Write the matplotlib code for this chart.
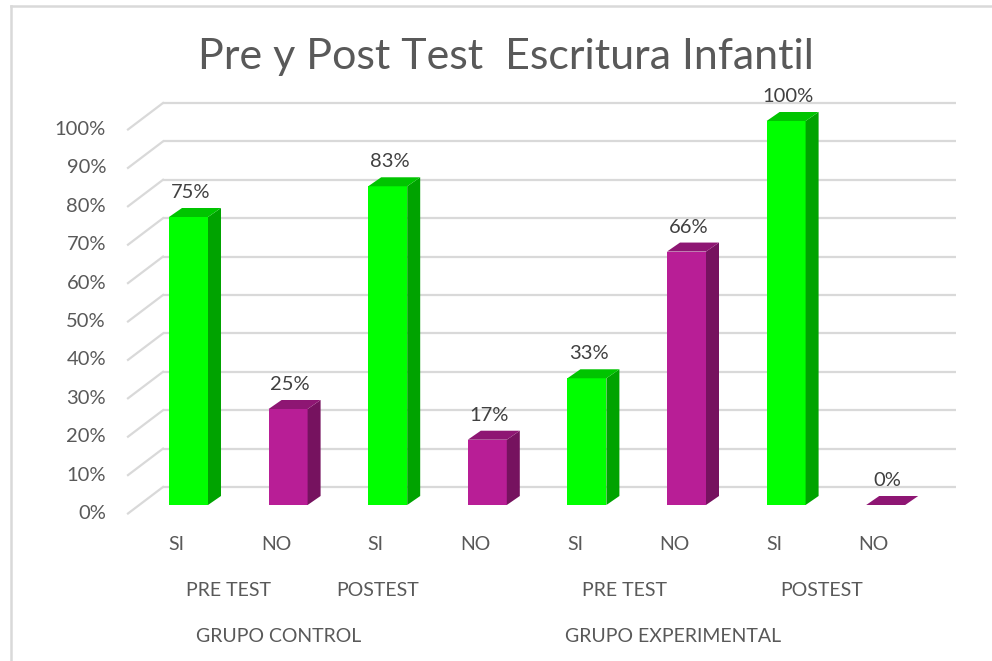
import matplotlib
matplotlib.use('Agg')
import matplotlib.pyplot as plt
from matplotlib.patches import Polygon
from matplotlib.lines import Line2D

# datos del grafico
categorias = ['SI', 'NO', 'SI', 'NO', 'SI', 'NO', 'SI', 'NO']
valores = [0.75, 0.25, 0.83, 0.17, 0.33, 0.66, 1.00, 0.00]
etiquetas = ['75%', '25%', '83%', '17%', '33%', '66%', '100%', '0%']
fases = ['PRE TEST', 'POSTEST', 'PRE TEST', 'POSTEST']
grupos = ['GRUPO CONTROL', 'GRUPO EXPERIMENTAL']
ticks = [0.0, 0.1, 0.2, 0.3, 0.4, 0.5, 0.6, 0.7, 0.8, 0.9, 1.0]
tick_labels = ['0%', '10%', '20%', '30%', '40%', '50%', '60%', '70%', '80%', '90%', '100%']

# posiciones de las etiquetas de nivel 2 y 3 (en unidades de categoria)
pos_fases = [0.40, 1.90, 4.38, 6.36]
pos_grupos = [0.90, 4.87]

# colores
verde = ('#00FF00', '#00A300', '#00C400')      # frente, lado, tapa
magenta = ('#B81E96', '#76125F', '#8E1673')
gris_txt = '#595959'
gris_grid = '#D9D9D9'

plt.rcParams['font.family'] = ['Lato', 'DejaVu Sans']

W, H = 992, 661
fig = plt.figure(figsize=(W / 100, H / 100), dpi=100)

# axes en pixeles: plano de las barras
L, R, T, B = 100, 970, 90, 530
X0, DX = 188.5, 99.6    # centro barra 0, separacion
Y0, YS = 505, 384       # pixel de 0%, pixeles por 100%
ax = fig.add_axes([L / W, 1 - B / H, (R - L) / W, (B - T) / H])
ax.set_xlim((L - X0) / DX, (R - X0) / DX)
ax.set_ylim((Y0 - B) / YS, (Y0 - T) / YS)
ax.axis('off')

ux = 1 / DX
uy = 1 / YS

def px(xp):
    return (xp - X0) * ux

# lineas de la cuadricula (pared de fondo + diagonal lateral)
for t in ticks:
    yb = t + 18 * uy
    yf = t - 8.5 * uy
    ax.plot([px(163), px(956)], [yb, yb], color=gris_grid, lw=1.6, zorder=1,
            solid_capstyle='butt')
    ax.plot([px(128), px(163)], [yf, yb], color=gris_grid, lw=1.6, zorder=1)

for t, lab in zip(ticks, tick_labels):
    ax.text(px(106), t - 8.5 * uy, lab, ha='right', va='center', fontsize=14.5,
            color=gris_txt, clip_on=False)

# barras con efecto 3D
x = list(range(len(valores)))
w = 39 * ux
ddx, ddy = 13 * ux, 9 * uy
colores = [verde if c == 'SI' else magenta for c in categorias]
ax.bar(x, valores, width=w, color=[c[0] for c in colores], zorder=3)
for xi, v, c in zip(x, valores, colores):
    lado = [(xi + w / 2, 0), (xi + w / 2 + ddx, ddy), (xi + w / 2 + ddx, v + ddy), (xi + w / 2, v)]
    tapa = [(xi - w / 2, v), (xi + w / 2, v), (xi + w / 2 + ddx, v + ddy), (xi - w / 2 + ddx, v + ddy)]
    if v > 0:
        ax.add_patch(Polygon(lado, closed=True, facecolor=c[1], edgecolor='none', zorder=3))
    ax.add_patch(Polygon(tapa, closed=True, facecolor=c[2], edgecolor='none', zorder=3))

for xi, v, lab in zip(x, valores, etiquetas):
    ax.text(xi + 2 * ux, v + 16 * uy, lab, ha='center', va='bottom', fontsize=14.5,
            color='#404040', clip_on=False)

# etiquetas de categorias (tres niveles)
for xi, c in zip(x, categorias):
    ax.text(xi - 12 * ux, (Y0 - 544) * uy, c, ha='center', va='center', fontsize=14,
            color=gris_txt, clip_on=False)
for p, f in zip(pos_fases, fases):
    ax.text(p, (Y0 - 590) * uy, f, ha='center', va='center', fontsize=14,
            color=gris_txt, clip_on=False)
for p, g in zip(pos_grupos, grupos):
    ax.text(p, (Y0 - 636) * uy, g, ha='center', va='center', fontsize=14,
            color=gris_txt, clip_on=False)

fig.text(506 / W, 1 - 57 / H, 'Pre y Post Test  Escritura Infantil', ha='center',
         va='center', fontsize=31, color=gris_txt)

# borde del area del grafico
fig.add_artist(Line2D([10.5 / W, 10.5 / W], [0, 1 - 5.5 / H], color=gris_grid, lw=1.8))
fig.add_artist(Line2D([10.5 / W, 1], [1 - 5.5 / H, 1 - 5.5 / H], color=gris_grid, lw=1.8))

fig.savefig('out.png', dpi=100)
